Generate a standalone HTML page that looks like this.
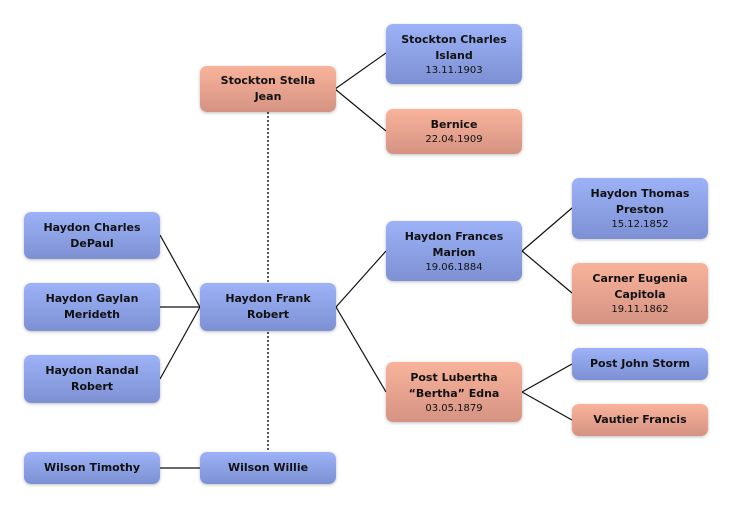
<!DOCTYPE html>
<html><head><meta charset="utf-8"><style>
body{margin:0;width:732px;height:508px;background:#fff;position:relative;overflow:hidden;font-family:"DejaVu Sans","Liberation Sans",sans-serif;}
.b{position:absolute;box-sizing:border-box;border-radius:7px;display:flex;flex-direction:column;justify-content:center;align-items:center;text-align:center;color:#111;font-weight:bold;font-size:11px;line-height:16px;box-shadow:0 1px 3px rgba(0,0,0,0.25);}
.m{background:linear-gradient(#9db2f7,#7d90d3);}
.f{background:linear-gradient(#f9b39b,#d59383);}
.d{font-weight:normal;font-size:10px;line-height:13px;}
svg{position:absolute;left:0;top:0;}
</style></head><body>
<svg width="732" height="508">
<g stroke="#111" stroke-width="1.2" fill="none">
<line x1="335" y1="89" x2="386" y2="53"/><line x1="335" y1="89" x2="386" y2="131"/>
<line x1="160" y1="235" x2="200" y2="307"/><line x1="160" y1="307" x2="200" y2="307"/><line x1="160" y1="379" x2="200" y2="307"/>
<line x1="336" y1="307" x2="386" y2="251"/><line x1="336" y1="307" x2="386" y2="392"/>
<line x1="522" y1="251" x2="572" y2="208"/><line x1="522" y1="251" x2="572" y2="293"/>
<line x1="522" y1="392" x2="572" y2="364"/><line x1="522" y1="392" x2="572" y2="420"/>
<line x1="160" y1="468" x2="200" y2="468"/>
</g>
<line x1="268" y1="112" x2="268" y2="452" stroke="#555" stroke-width="2" stroke-dasharray="2,2"/>
</svg>
<div class="b f" style="left:200px;top:66px;width:136px;height:46px">Stockton Stella<br>Jean</div>
<div class="b m" style="left:386px;top:24px;width:136px;height:60px">Stockton Charles<br>Island<span class="d">13.11.1903</span></div>
<div class="b f" style="left:386px;top:109px;width:136px;height:45px">Bernice<span class="d">22.04.1909</span></div>
<div class="b m" style="left:24px;top:212px;width:136px;height:47px">Haydon Charles<br>DePaul</div>
<div class="b m" style="left:24px;top:283px;width:136px;height:48px">Haydon Gaylan<br>Merideth</div>
<div class="b m" style="left:24px;top:355px;width:136px;height:48px">Haydon Randal<br>Robert</div>
<div class="b m" style="left:200px;top:283px;width:136px;height:48px">Haydon Frank<br>Robert</div>
<div class="b m" style="left:386px;top:221px;width:136px;height:60px">Haydon Frances<br>Marion<span class="d">19.06.1884</span></div>
<div class="b m" style="left:572px;top:178px;width:136px;height:61px">Haydon Thomas<br>Preston<span class="d">15.12.1852</span></div>
<div class="b f" style="left:572px;top:263px;width:136px;height:61px">Carner Eugenia<br>Capitola<span class="d">19.11.1862</span></div>
<div class="b f" style="left:386px;top:362px;width:136px;height:60px">Post Lubertha<br>“Bertha” Edna<span class="d">03.05.1879</span></div>
<div class="b m" style="left:572px;top:348px;width:136px;height:32px">Post John Storm</div>
<div class="b f" style="left:572px;top:404px;width:136px;height:32px">Vautier Francis</div>
<div class="b m" style="left:24px;top:452px;width:136px;height:32px">Wilson Timothy</div>
<div class="b m" style="left:200px;top:452px;width:136px;height:32px">Wilson Willie</div>
</body></html>
